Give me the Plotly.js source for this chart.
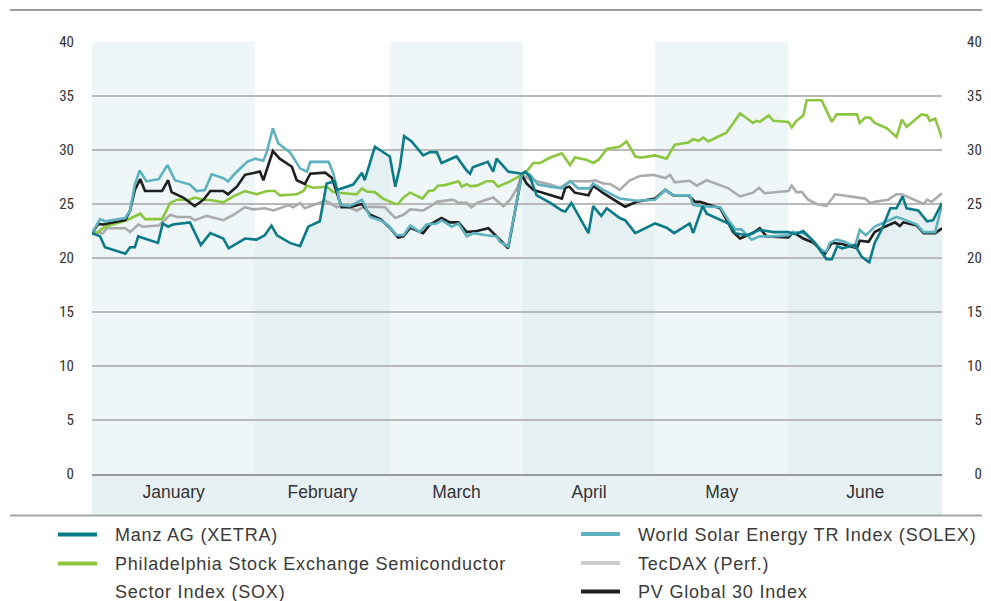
<!DOCTYPE html>
<html><head><meta charset="utf-8">
<script src="https://cdn.plot.ly/plotly-3.0.1.min.js"></script>
<style>
html,body{margin:0;padding:0;background:#fff}
#chart{width:991px;height:601px}
.annotation-text{letter-spacing:0.8px}
.xtick text{letter-spacing:1px}
</style>
</head><body><div id="chart"></div>
<script>
// ---- data (x = trading-day index, y = share price / index value) ----
const months = ['January','February','March','April','May','June'];
const monthEdges = [0, 24, 43.8, 63.4, 82.8, 102.4, 125];
const shadedMonths = [0, 2, 4];
const yTicks = [0, 5, 10, 15, 20, 25, 30, 35, 40];

const manzX = [0,1.2,1.9,4.9,5.6,6.3,6.8,9.7,10.4,11.2,11.9,14.4,16.0,17.4,19.3,20.1,22.5,24.2,25.4,26.4,27.2,29.1,30.6,31.8,33.5,34.5,35.7,36.0,38.4,39.7,40.1,41.6,43.8,44.6,45.3,45.9,47.0,48.7,49.7,50.7,51.4,53.6,55.1,55.6,56.0,58.2,59.0,59.5,61.2,63.2,63.7,64.4,65.4,67.4,69.1,69.6,70.5,73.0,73.7,74.9,75.7,77.6,78.4,79.9,82.8,84.5,85.6,87.9,88.4,89.8,90.4,93.6,94.6,96.3,98.2,100.2,102.4,103.4,104.6,106.3,108.0,108.8,109.6,110.3,112.2,113.2,114.3,115.1,116.1,117.4,118.3,119.2,119.8,121.5,122.8,123.7,125];
const manzY = [22.3,22.0,21.0,20.4,21.0,21.0,22.0,21.4,23.2,22.9,23.1,23.3,21.2,22.3,21.8,20.9,21.8,21.7,22.1,23.0,22.1,21.4,21.1,22.9,23.4,26.9,27.1,26.3,26.8,27.9,27.2,30.3,29.4,26.6,28.5,31.3,30.8,29.5,29.8,29.8,28.8,29.4,28.1,27.8,28.4,28.9,28.0,29.2,28.0,27.8,28.0,27.5,25.8,25.1,24.4,24.3,25.1,22.3,24.8,23.9,24.6,23.7,23.5,22.3,23.2,22.8,22.3,23.2,22.3,24.8,24.1,23.2,22.3,22.1,22.6,22.4,22.4,22.2,22.5,21.4,19.9,19.9,21.1,20.9,21.2,20.1,19.6,21.4,22.6,24.6,24.6,25.7,24.6,24.4,23.4,23.5,25.1];

const soxX = [0,0.9,1.9,5.1,7.1,7.8,10.3,11.5,12.5,14.4,15.1,16.4,17.6,19.3,20.8,22.5,24.2,25.7,26.9,27.6,30.1,31.1,31.6,32.5,34.5,35.5,37.0,38.9,39.7,40.4,41.6,42.8,44.6,45.0,45.8,46.8,48.6,49.5,50.2,50.9,51.9,53.9,54.4,55.1,55.6,56.6,58.0,59.0,59.7,61.5,63.2,63.9,64.9,65.9,67.4,69.1,70.3,71.0,72.7,73.7,74.5,75.7,77.6,78.6,79.9,80.8,82.8,84.5,85.7,87.7,88.4,89.2,89.9,90.6,93.3,95.3,97.2,97.7,98.2,99.5,100.2,102.4,102.9,103.6,104.6,105.1,107.3,108.8,109.5,112.5,112.9,113.7,114.4,115.1,116.9,118.3,119.1,119.8,122.0,122.8,123.2,124.0,125];
const soxY = [22.3,22.4,22.9,23.5,24.1,23.6,23.6,25.1,25.4,25.4,25.6,25.4,25.35,25.15,25.7,26.2,25.9,26.2,26.2,25.8,25.9,26.2,26.7,26.5,26.6,26.1,26.0,25.9,26.45,26.15,26.1,25.5,25.0,25.0,25.6,26.05,25.5,26.2,26.25,26.7,26.75,27.1,26.6,26.85,26.65,26.7,27.1,27.1,26.6,27.1,27.7,28.0,28.8,28.8,29.3,29.7,28.6,29.3,29.1,28.8,29.1,30.1,30.3,30.8,29.4,29.3,29.5,29.2,30.5,30.7,31.0,30.85,31.15,30.8,31.6,33.4,32.5,32.7,32.6,33.2,32.7,32.6,32.1,32.7,33.2,34.6,34.6,32.6,33.3,33.3,32.5,33.0,33.0,32.5,32.0,31.2,32.8,32.15,33.3,33.2,32.7,32.9,31.1];

const solexX = [0,1.2,1.9,4.9,5.6,6.3,7.0,8.0,9.8,11.1,12.2,14.4,15.4,16.6,17.6,19.3,20.0,21.0,22.8,24.0,25.2,25.7,26.6,27.4,29.1,30.6,31.6,32.1,34.8,35.5,36.0,36.5,37.9,38.9,39.7,40.9,42.4,43.6,44.8,45.8,46.8,48.2,49.2,50.7,51.4,52.9,53.9,55.1,56.1,58.0,59.5,60.0,61.2,63.2,63.7,64.4,65.6,67.4,69.1,70.3,71.5,73.2,73.7,75.2,77.6,80.1,82.8,84.3,85.5,87.9,88.4,89.7,92.4,93.6,94.6,95.5,97.0,98.2,100.2,102.4,103.1,104.6,105.6,107.3,108.0,108.5,109.5,110.7,112.2,112.9,113.8,115.1,116.6,118.3,119.3,121.3,122.3,124.0,125];
const solexY = [22.3,23.6,23.4,23.7,24.4,26.8,28.1,27.1,27.3,28.6,27.2,26.8,26.2,26.3,27.75,27.4,27.1,27.8,28.9,29.2,29.0,29.8,32.0,30.6,29.8,28.3,28.0,28.9,28.9,27.8,26.45,24.9,24.8,25.1,25.4,23.8,23.5,23.0,22.1,22.1,23.0,22.4,23.1,23.2,23.5,22.9,23.2,22.0,22.3,22.1,22.0,21.5,21.05,27.7,28.0,27.7,26.8,26.6,26.45,27.1,26.45,26.45,26.9,26.3,25.5,25.3,25.4,26.3,25.8,25.8,24.9,24.8,24.7,23.5,22.65,22.65,21.7,22.0,22.0,22.1,22.4,22.3,21.9,20.7,20.6,21.4,21.7,21.5,21.05,22.6,22.1,22.9,23.3,23.8,23.6,23.1,22.4,22.4,25.0];

const tecdaxX = [0,1.6,2.2,4.9,5.6,6.8,7.5,9.8,11.5,12.5,14.4,15.1,16.9,19.3,20.8,22.5,23.7,25.4,26.7,27.9,28.9,29.6,30.6,31.3,32.5,34.3,35.5,36.0,37.0,38.9,39.9,41.4,43.1,44.6,45.8,46.8,48.7,49.7,50.7,53.1,53.9,55.1,55.8,56.6,59.0,60.5,61.5,62.5,63.2,64.4,65.4,67.4,68.8,70.3,73.2,74.0,75.2,76.2,77.6,79.1,80.6,82.5,84.3,85.0,85.7,87.9,88.9,90.4,93.6,95.3,97.2,98.1,98.9,102.4,102.9,103.6,104.4,105.3,106.6,108.0,109.3,111.0,113.7,114.4,115.1,117.1,118.3,119.1,122.3,122.8,123.5,125];
const tecdaxY = [22.3,22.3,22.75,22.75,22.4,23.1,22.9,23.0,24.0,23.8,23.8,23.5,23.9,23.5,24.0,24.7,24.5,24.6,24.4,24.7,24.9,24.7,25.1,24.6,24.9,25.3,24.9,24.7,24.9,24.4,24.7,24.75,24.7,23.7,24.0,24.5,24.4,24.75,25.2,25.4,25.1,25.1,24.7,25.1,25.6,24.8,25.4,26.45,27.7,27.3,27.1,26.8,26.5,27.1,27.1,27.2,26.9,26.85,26.3,27.2,27.6,27.7,27.4,27.7,27.0,27.15,26.7,27.2,26.45,25.7,26.05,26.5,26.0,26.2,26.7,26.1,26.1,25.4,25.0,24.8,25.9,25.75,25.5,25.1,25.2,25.4,25.9,25.9,25.0,25.4,25.2,26.0];

const pvX = [0,0.9,1.6,4.9,5.6,6.3,7.1,7.8,10.3,11.2,11.7,13.4,15.1,16.4,17.4,19.3,20.0,21.3,22.5,24.7,25.2,26.6,27.6,29.4,30.1,31.3,32.1,34.3,35.3,36.0,36.7,37.9,38.9,39.7,40.9,42.4,43.8,45.0,45.8,46.8,48.7,49.7,51.4,52.6,53.9,55.1,56.6,58.3,59.5,61.2,63.2,63.9,64.9,67.4,69.1,69.6,70.2,71.0,73.0,73.7,75.2,78.4,80.1,82.8,84.3,85.5,87.7,88.7,89.4,92.4,94.3,95.3,97.2,98.2,99.2,102.4,103.1,104.6,106.1,107.8,108.8,110.3,112.5,112.9,114.2,115.1,116.6,118.1,118.8,119.3,121.3,122.3,124.0,125];
const pvY = [22.3,23.15,23.1,23.5,24.4,26.3,27.3,26.2,26.2,27.2,26.1,25.6,24.8,25.4,26.2,26.2,25.9,26.6,27.7,28.0,27.2,29.9,29.2,28.45,27.2,26.85,27.8,27.9,27.4,26.1,24.7,24.7,24.9,25.0,24.0,23.6,22.8,21.9,22.0,22.8,22.3,23.1,23.7,23.3,23.3,22.4,22.5,22.75,22.0,20.9,27.7,26.9,26.3,25.8,25.5,26.5,26.6,26.05,25.8,26.7,26.0,24.75,25.2,25.5,26.3,25.8,25.8,25.2,25.2,24.6,22.4,21.8,22.3,22.75,22.0,21.9,22.4,21.8,21.4,20.4,21.4,21.3,20.9,21.6,21.5,22.4,22.9,23.3,22.96,23.3,23.0,22.3,22.3,22.75];

const seriesNames = ['Manz AG (XETRA)', 'Philadelphia Stock Exchange Semiconductor Sector Index (SOX)', 'World Solar Energy TR Index (SOLEX)', 'TecDAX (Perf.)', 'PV Global 30 Index'];

// ---- styling ----
const C = {manz:'#0b7b88', sox:'#8cc63f', solex:'#5eb1bf', tecdax:'#ababab', pv:'#1f1f1f'};
const yMin = yTicks[0], yMax = yTicks[yTicks.length-1];
const xMin = monthEdges[0], xMax = monthEdges[monthEdges.length-1];
const monthCenters = months.map((m,i)=>(monthEdges[i]+monthEdges[i+1])/2);

const traces = [];
// background subplot (x,y): area under Manz + alternating month bands
traces.push({x:manzX, y:manzY, xaxis:'x', yaxis:'y', type:'scatter', mode:'lines', fill:'tozeroy', fillcolor:'#e5f0f2', line:{width:0,color:'rgba(0,0,0,0)'}, hoverinfo:'skip', showlegend:false});
shadedMonths.forEach(i=>{
  const a = monthEdges[i], b = monthEdges[i+1];
  traces.push({x:[a,a,b,b,a], y:[yMin,yMax,yMax,yMin,yMin], xaxis:'x', yaxis:'y', type:'scatter', mode:'lines', fill:'toself', fillcolor:'#eef6f8', line:{width:0,color:'rgba(0,0,0,0)'}, hoverinfo:'skip', showlegend:false});
});
// foreground subplot (x2,y2): the lines
function line(x,y,color,name){ return {x:x, y:y, xaxis:'x2', yaxis:'y2', type:'scatter', mode:'lines', name:name, line:{color:color, width:2.6}, showlegend:false}; }
traces.push(line(tecdaxX, tecdaxY, C.tecdax, seriesNames[3]));
traces.push(line(soxX, soxY, C.sox, seriesNames[1]));
traces.push(line(pvX, pvY, C.pv, seriesNames[4]));
traces.push(line(solexX, solexY, C.solex, seriesNames[2]));
traces.push(line(manzX, manzY, C.manz, seriesNames[0]));

// layout helpers: pixel -> paper
const L=92, R=942, T=42, B=474;
const px = v => (v-L)/(R-L);
const py = v => (B-v)/(B-T);

const tickFont = {family:'Liberation Sans Narrow, Roboto Condensed, Roboto, sans-serif', size:15, color:'#333'};
const textFont = {family:'Liberation Sans, Arial, sans-serif', size:18, color:'#3a3a3a'};
const fs = '\u2007';

const shapes = [
  {type:'rect', xref:'paper', yref:'paper', x0:0, x1:1, y0:py(514.5), y1:0, fillcolor:'#e7f1f3', line:{width:0}, layer:'below'},
  {type:'line', xref:'paper', yref:'paper', x0:px(10), x1:px(982), y0:py(10), y1:py(10), line:{color:'#9c9c9c', width:2.2}},
  {type:'line', xref:'paper', yref:'paper', x0:px(10), x1:px(982), y0:py(515.5), y1:py(515.5), line:{color:'#a4a4a4', width:2}}
];
const annotations = [];
const legend = [
  {name:seriesNames[0], color:C.manz, x:58, y:534.5},
  {name:seriesNames[1], color:C.sox, x:58, y:563.5},
  {name:seriesNames[2], color:C.solex, x:581, y:534},
  {name:seriesNames[3], color:'#cdcdcd', x:581, y:563},
  {name:seriesNames[4], color:C.pv, x:581, y:591.5}
];
legend.forEach((it,i)=>{
  shapes.push({type:'line', xref:'paper', yref:'paper', x0:px(it.x), x1:px(it.x+39), y0:py(it.y), y1:py(it.y), line:{color:it.color, width:4}});
  let lines = [it.name];
  if (i===1) lines = ['Philadelphia Stock Exchange Semiconductor', 'Sector Index (SOX)'];
  lines.forEach((t,k)=>{
    annotations.push({xref:'paper', yref:'paper', x:px(it.x+55), y:py(it.y+0.5+k*28), xanchor:'left', yanchor:'middle', text:t, showarrow:false, font:textFont});
  });
});

const layout = {
  width:991, height:601,
  margin:{l:L, r:991-R, t:T, b:601-B},
  paper_bgcolor:'#ffffff', plot_bgcolor:'rgba(0,0,0,0)',
  showlegend:false,
  xaxis:{domain:[0,1], range:[xMin,xMax], anchor:'y', showgrid:false, zeroline:false, showticklabels:false, ticks:'', fixedrange:true},
  yaxis:{domain:[0,1], range:[yMin,yMax], anchor:'x', side:'left', showgrid:false, zeroline:false, tickvals:yTicks, ticktext:yTicks.map(String), ticks:'', ticklabelstandoff:17, tickfont:tickFont, fixedrange:true},
  xaxis2:{domain:[0,1], range:[xMin,xMax], anchor:'y2', showgrid:false, zeroline:false, showline:true, linecolor:'#9a9a9a', linewidth:2, tickvals:monthCenters, ticktext:months, ticks:'', ticklabelstandoff:1, tickfont:{family:textFont.family, size:17.5, color:'#333'}, fixedrange:true},
  yaxis2:{domain:[0,1], range:[yMin,yMax], anchor:'x2', side:'right', showgrid:true, gridcolor:'#b9b9b9', gridwidth:1.5, zeroline:false, tickvals:yTicks, ticktext:yTicks.map(v=> v<10 ? fs+v : String(v)), ticks:'', ticklabelstandoff:24, tickfont:tickFont, fixedrange:true},
  shapes:shapes,
  annotations:annotations
};
Plotly.newPlot('chart', traces, layout, {displayModeBar:false, staticPlot:true});
</script>
</body></html>
